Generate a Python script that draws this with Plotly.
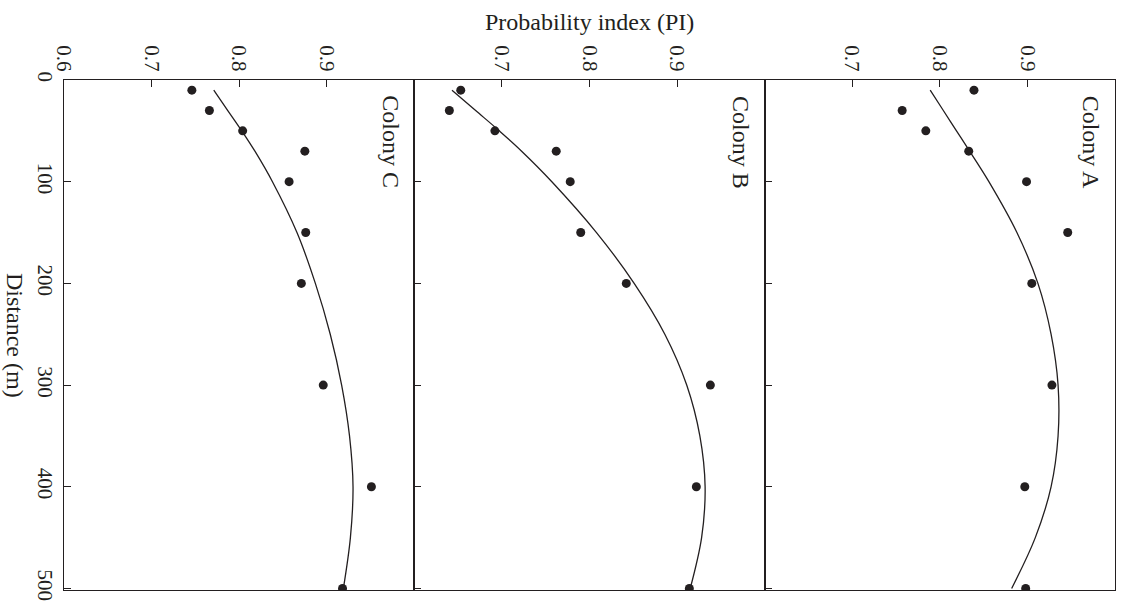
import plotly.graph_objects as go

# ---- data ----
distance = [10, 30, 50, 70, 100, 150, 200, 300, 400, 500]
pi_a = [0.839, 0.757, 0.784, 0.833, 0.899, 0.946, 0.905, 0.928, 0.897, 0.898]
pi_b = [0.653, 0.640, 0.692, 0.762, 0.778, 0.790, 0.842, 0.938, 0.922, 0.914]
pi_c = [0.746, 0.766, 0.804, 0.875, 0.857, 0.876, 0.871, 0.896, 0.951, 0.918]

fit_distance = [10, 30, 50, 70, 100, 150, 200, 250, 300, 350, 400, 450, 500]
fit_a = [0.789, 0.804, 0.819, 0.834, 0.856, 0.888, 0.912, 0.927, 0.935, 0.935, 0.927, 0.909, 0.882]
fit_b = [0.643, 0.670, 0.697, 0.7225, 0.757, 0.808, 0.851, 0.886, 0.911, 0.926, 0.932, 0.928, 0.915]
fit_c = [0.771, 0.787, 0.803, 0.818, 0.838, 0.866, 0.887, 0.904, 0.917, 0.926, 0.930, 0.927, 0.919]

panel_names = ["Colony C", "Colony B", "Colony A"]
dist_ticks = [0, 100, 200, 300, 400, 500]
pi_ticks_c = [0.6, 0.7, 0.8, 0.9]
pi_ticks_b = [0.7, 0.8, 0.9]
pi_ticks_a = [0.7, 0.8, 0.9, 1.0]
pi_ticktext_a = ["0.7", "0.8", "0.9", "1"]

FONT = "Liberation Serif"
INK = "#231f20"

fig = go.Figure()
panels = [(pi_c, fit_c, "x", "y"), (pi_b, fit_b, "x2", "y2"), (pi_a, fit_a, "x3", "y3")]
for pts, fit, xa, ya in panels:
    fig.add_trace(go.Scatter(x=fit, y=fit_distance, mode="lines",
                             line=dict(color=INK, width=1.3, shape="spline", smoothing=1.0),
                             xaxis=xa, yaxis=ya, showlegend=False, hoverinfo="skip"))
    fig.add_trace(go.Scatter(x=pts, y=distance, mode="markers", marker=dict(color=INK, size=9),
                             xaxis=xa, yaxis=ya, showlegend=False))

common_x = dict(range=[0.6, 1.0], side="top", ticks="inside", ticklen=7, tickcolor=INK, tickwidth=1,
                showline=True, linecolor=INK, linewidth=1.2, mirror=True, showgrid=False, zeroline=False,
                automargin=False, tickangle=90, tickfont=dict(family=FONT, size=21, color=INK))
common_y = dict(range=[501.5, 0], ticks="inside", ticklen=7, tickcolor=INK, tickwidth=1,
                tickvals=dist_ticks, showline=True, linecolor=INK, linewidth=1.2, mirror=True,
                showgrid=False, zeroline=False, automargin=False, tickangle=90,
                tickfont=dict(family=FONT, size=21, color=INK))

fig.update_layout(
    width=1124, height=611,
    margin=dict(l=64, r=9, t=80, b=21),
    paper_bgcolor="white", plot_bgcolor="white",
    xaxis=dict(common_x, domain=[0, 1/3], anchor="y", tickvals=pi_ticks_c),
    xaxis2=dict(common_x, domain=[1/3, 2/3], anchor="y2", tickvals=pi_ticks_b),
    xaxis3=dict(common_x, domain=[2/3, 1], anchor="y3", tickvals=pi_ticks_a, ticktext=pi_ticktext_a),
    yaxis=dict(common_y, anchor="x", domain=[0, 1]),
    yaxis2=dict(common_y, anchor="x2", domain=[0, 1], showticklabels=False),
    yaxis3=dict(common_y, anchor="x3", domain=[0, 1], showticklabels=False),
)

annotations = []
for name, xr, yr in zip(panel_names, ["x", "x2", "x3"], ["y", "y2", "y3"]):
    annotations.append(dict(text=name, x=0.973, y=61, xref=xr, yref=yr, showarrow=False, textangle=90,
                            xanchor="center", yanchor="middle",
                            font=dict(family=FONT, size=24, color=INK)))
annotations.append(dict(text="Probability index (PI)", x=0.5, y=1 + (80 - 22) / 510, xref="paper", yref="paper",
                        showarrow=False, xanchor="center", yanchor="middle",
                        font=dict(family=FONT, size=24, color=INK)))
annotations.append(dict(text="Distance (m)", x=(15 - 64) / 1051, y=(590 - 335) / 510, xref="paper", yref="paper",
                        showarrow=False, textangle=90, xanchor="center", yanchor="middle",
                        font=dict(family=FONT, size=24, color=INK)))
fig.update_layout(annotations=annotations)

fig.write_html("out.html", config={"displayModeBar": False},
               post_script="document.body.style.margin='0';document.body.style.overflow='hidden';")
